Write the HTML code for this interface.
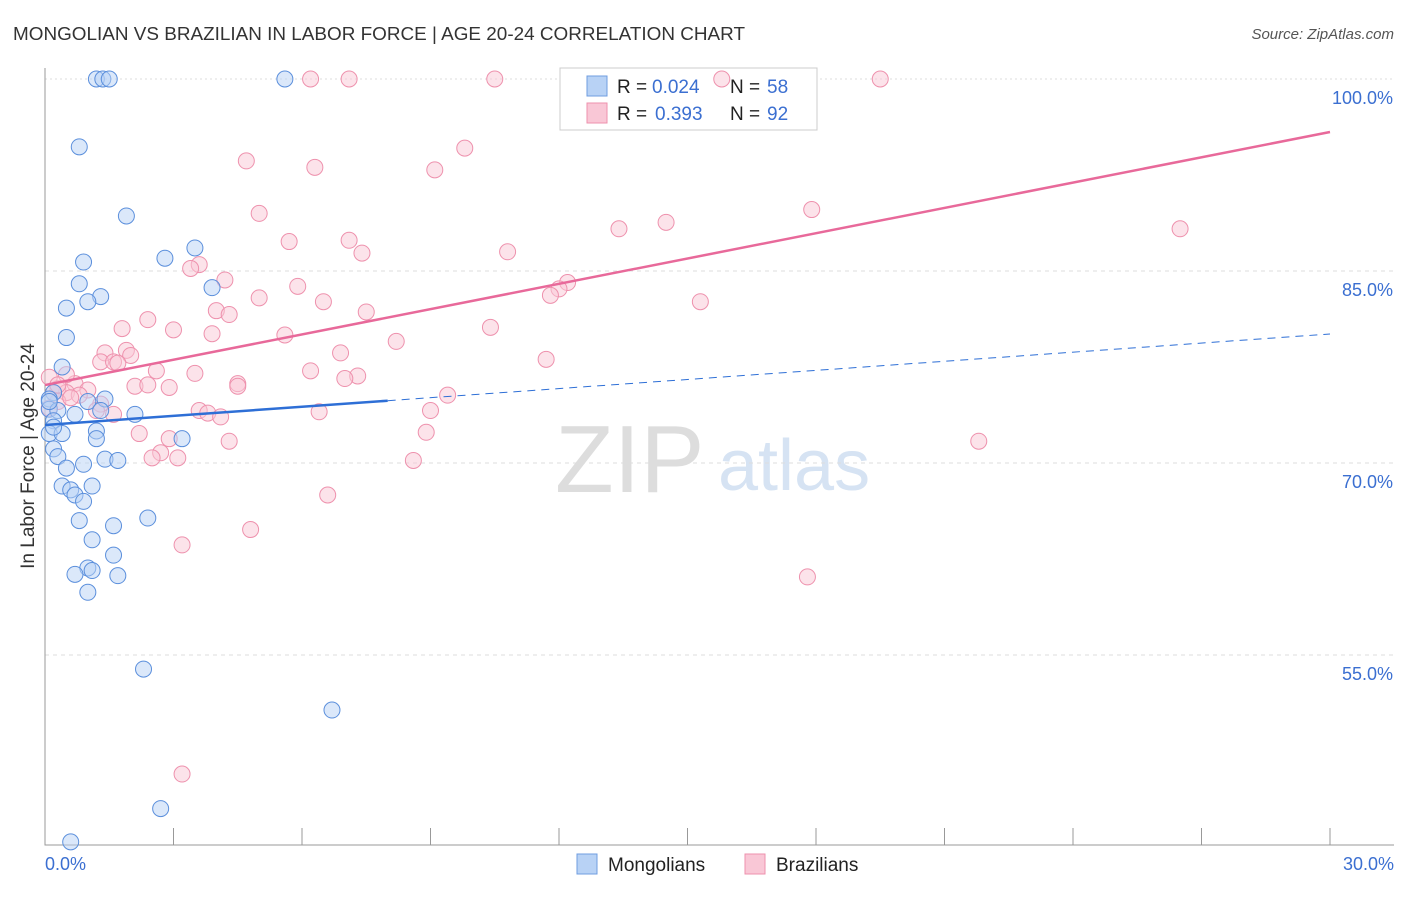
<!DOCTYPE html>
<html><head><meta charset="utf-8"><style>
body{margin:0;background:#fff;font-family:"Liberation Sans",sans-serif;}
svg text{font-family:"Liberation Sans",sans-serif;}
</style></head><body>
<svg id="c" width="1406" height="892" xmlns="http://www.w3.org/2000/svg">
<text x="13" y="40" font-size="18" fill="#333" textLength="732" lengthAdjust="spacingAndGlyphs">MONGOLIAN VS BRAZILIAN IN LABOR FORCE | AGE 20-24 CORRELATION CHART</text>
<text x="1394" y="39" font-size="15" fill="#555" font-style="italic" text-anchor="end">Source: ZipAtlas.com</text>
<text x="555" y="492" font-size="96" fill="#ddd" font-family="Liberation Serif">ZIP</text>
<text x="718" y="490" font-size="72" fill="#d6e3f3">atlas</text>
<g id="grid"></g><g id="axes"></g>
<g>
<rect x="560" y="68" width="257" height="62" fill="#fff" stroke="#ccc"/>
<rect x="587" y="76" width="20" height="20" fill="#b8d2f5" stroke="#6f9de0"/>
<rect x="587" y="103" width="20" height="20" fill="#f9c7d6" stroke="#ee91ad"/>
<text x="617" y="93" font-size="19" fill="#222">R =</text>
<text x="652" y="93" font-size="19" fill="#3b6fd1">0.024</text>
<text x="730" y="93" font-size="19" fill="#222">N =</text>
<text x="767" y="93" font-size="19" fill="#3b6fd1">58</text>
<text x="617" y="120" font-size="19" fill="#222">R =</text>
<text x="655" y="120" font-size="19" fill="#3b6fd1">0.393</text>
<text x="730" y="120" font-size="19" fill="#222">N =</text>
<text x="767" y="120" font-size="19" fill="#3b6fd1">92</text>
</g>
<g id="pts"></g><g id="lines"></g>
<text transform="translate(34,456) rotate(-90)" font-size="19" fill="#333" text-anchor="middle">In Labor Force | Age 20-24</text>
<text x="45" y="870" font-size="18" fill="#3b6fd1">0.0%</text>
<text x="1394" y="870" font-size="18" fill="#3b6fd1" text-anchor="end">30.0%</text>
<g>
<rect x="577" y="854" width="20" height="20" fill="#b8d2f5" stroke="#6f9de0"/>
<text x="608" y="871" font-size="19" fill="#222">Mongolians</text>
<rect x="745" y="854" width="20" height="20" fill="#f9c7d6" stroke="#ee91ad"/>
<text x="776" y="871" font-size="19" fill="#222">Brazilians</text>
</g>
</svg>
<script>
const yTicks=[100,85,70,55];
const yTickLabels=["100.0%","85.0%","70.0%","55.0%"];
const mongolX=[1.2,1.35,1.5,5.6,0.8,1.9,3.5,2.8,0.9,0.8,1.3,1.0,0.5,3.9,0.5,0.4,0.2,0.1,0.1,0.3,0.7,1.0,1.4,1.3,2.1,0.2,0.1,0.4,1.2,1.2,3.2,0.2,0.3,1.4,1.7,0.9,0.5,0.4,1.1,0.6,0.7,0.9,0.8,2.4,1.6,1.1,1.6,1.0,1.1,0.7,1.7,1.0,2.3,6.7,2.7,0.6,0.1,0.2];
const mongolY=[100,100,100,100,94.7,89.3,86.8,86.0,85.7,84.0,83.0,82.6,82.1,83.7,79.8,77.5,75.5,75.0,74.2,74.1,73.8,74.8,75.0,74.1,73.8,73.3,72.3,72.3,72.5,71.9,71.9,71.1,70.5,70.3,70.2,69.9,69.6,68.2,68.2,67.9,67.5,67.0,65.5,65.7,65.1,64.0,62.8,61.8,61.6,61.3,61.2,59.9,53.9,50.7,43.0,40.4,74.8,72.8];
const brazX=[6.2,7.1,10.5,15.8,19.5,9.8,4.7,6.3,9.1,5.0,17.9,14.5,13.4,26.5,5.7,7.1,7.4,10.8,3.6,3.4,4.2,12.2,12.0,11.8,5.9,5.0,6.5,15.3,4.0,4.3,7.5,2.4,1.8,3.0,10.4,3.9,5.6,8.2,1.9,1.4,2.0,1.3,6.9,11.7,1.6,1.7,2.6,3.5,6.2,7.3,7.0,4.5,2.1,2.4,2.9,4.5,0.1,0.7,1.0,0.3,0.5,0.8,9.4,1.3,9.0,3.6,3.8,4.1,6.4,1.6,0.2,2.2,2.9,8.9,4.3,2.7,2.5,3.1,8.6,21.8,6.6,4.8,3.2,17.8,3.2,0.3,0.6,1.2,0.1,0.5,0.3];
const brazY=[100,100,100,100,100,94.6,93.6,93.1,92.9,89.5,89.8,88.8,88.3,88.3,87.3,87.4,86.4,86.5,85.5,85.2,84.3,84.1,83.6,83.1,83.8,82.9,82.6,82.6,81.9,81.6,81.8,81.2,80.5,80.4,80.6,80.1,80.0,79.5,78.8,78.6,78.4,77.9,78.6,78.1,77.9,77.8,77.2,77.0,77.2,76.8,76.6,76.2,76.0,76.1,75.9,76.0,76.7,76.2,75.7,75.8,75.5,75.3,75.3,74.6,74.1,74.1,73.9,73.6,74.0,73.8,75.5,72.3,71.9,72.4,71.7,70.8,70.4,70.4,70.2,71.7,67.5,64.8,63.6,61.1,45.7,74.8,75.1,74.1,74.3,76.9,76.1];
const mongolLine=[72.97,80.08];
const brazLine=[76.09,95.86];
const NS="http://www.w3.org/2000/svg";
const X=v=>45+v/30*1285, Y=v=>79+(100-v)*12.8;
function mk(t,a,p){const e=document.createElementNS(NS,t);for(const k in a)e.setAttribute(k,a[k]);p.appendChild(e);return e;}
const grid=document.getElementById('grid'),axes=document.getElementById('axes'),pts=document.getElementById('pts'),lines=document.getElementById('lines');
yTicks.forEach((t,i)=>{
 const g=mk('line',{x1:45,x2:1394,y1:Y(t),y2:Y(t),stroke:'#ddd','stroke-dasharray':i==0?'2,3':'4,4'},grid);
 
 
 const l=mk('text',{x:1393,y:Y(t)+25,'font-size':18,fill:'#3b6fd1','text-anchor':'end'},grid);l.textContent=yTickLabels[i];
 
 
});
const ax=mk('path',{d:'M45,68V845H1394',stroke:'#999',fill:'none'},axes);


for(let i=0;i<=10;i++){const t=mk('line',{x1:X(i*3),x2:X(i*3),y1:828,y2:845,stroke:'#999'},axes);
 
 }
function dots(xs,ys,fill,stroke,name){xs.forEach((x,i)=>{const c=mk('circle',{cx:X(x),cy:Y(ys[i]),r:8,fill:fill,'fill-opacity':0.5,stroke:stroke,'stroke-width':1},pts);
 
 });}
dots(brazX,brazY,'#f9c7d6','#ee91ad','brazilian-point');
dots(mongolX,mongolY,'#b8d2f5','#5b8fdc','mongolian-point');
const mAt=x=>mongolLine[0]+(mongolLine[1]-mongolLine[0])*x/30;
const bAt=x=>brazLine[0]+(brazLine[1]-brazLine[0])*x/30;
const l1=mk('line',{x1:X(0),y1:Y(bAt(0)),x2:X(30),y2:Y(bAt(30)),stroke:'#e8699a','stroke-width':2.5},lines);


const l2=mk('line',{x1:X(0),y1:Y(mAt(0)),x2:X(8),y2:Y(mAt(8)),stroke:'#2e6fd6','stroke-width':2.5},lines);


const l3=mk('line',{x1:X(8),y1:Y(mAt(8)),x2:X(30),y2:Y(mAt(30)),stroke:'#2e6fd6','stroke-width':1,'stroke-dasharray':'8,6'},lines);


</script>
</body></html>
